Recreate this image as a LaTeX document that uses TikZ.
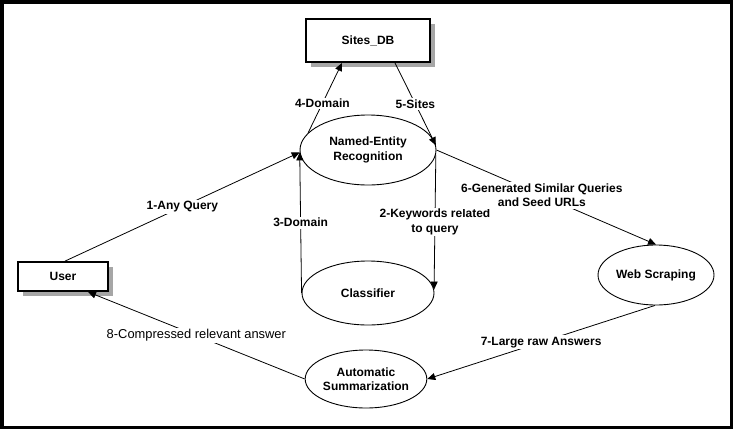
\documentclass[tikz,border=0pt]{standalone}
\usepackage{fontspec}
\setmainfont{Liberation Sans}
\usetikzlibrary{arrows.meta,shapes.geometric,shadows}
\begin{document}
\begin{tikzpicture}[x=1pt,y=-1pt,
  every node/.style={font=\fontsize{12}{14.5}\selectfont\bfseries},
  ell/.style={draw,ellipse,line width=0.9pt,inner sep=0pt,fill=white},
  box/.style={draw,rectangle,line width=1.8pt,inner sep=0pt,fill=white,
    drop shadow={shadow xshift=5pt,shadow yshift=-5pt,fill=black!35,opacity=1}},
  conn/.style={line width=0.8pt,-{Triangle[length=8pt,width=7pt]}},
  lbl/.style={fill=white,inner sep=1.5pt}
  ]
\useasboundingbox (0,0) rectangle (733,429);
\draw[line width=3.5pt] (1.75,1.75) rectangle (731.25,427.25);

\node[box,minimum width=124pt,minimum height=43pt] (sites) at (368,40.5) {Sites\_DB};
\node[box,minimum width=90pt,minimum height=29pt] (user) at (63,276.5) {User};
\node[ell,minimum width=136pt,minimum height=70pt,align=center] (ner) at (368,150) {Named-Entity\\Recognition};
\node[ell,minimum width=132pt,minimum height=64pt] (cls) at (368,293) {Classifier};
\node[ell,minimum width=116pt,minimum height=58pt,align=center] (auto) at (366,379) {Automatic\\Summarization};
\node[ell,minimum width=116pt,minimum height=60pt] (web) at (656,275) {Web Scraping};

\draw[conn] ([xshift=2pt]user.north) -- node[lbl,pos=0.5] (l1) {1-Any Query} (ner.182);
\draw[conn] (ner.164) -- node[lbl,pos=0.42] (l4) {4-Domain} ([xshift=-26pt]sites.south);
\draw[conn] ([xshift=27pt]sites.south) -- node[lbl,pos=0.5] (l5) {5-Sites} (ner.4);
\draw[conn] (cls.west) -- node[lbl,pos=0.5] (l3) {3-Domain} (ner.182);
\draw[conn] (ner.356) -- node[lbl,pos=0.5,align=center] (l2) {2-Keywords related\\to query} (cls.3);
\draw[conn] (ner.east) -- node[lbl,pos=0.48,align=center] (l6) {6-Generated Similar Queries\\and Seed URLs} (web.north);
\draw[conn] (web.268) -- node[lbl,pos=0.5] (l7) {7-Large raw Answers} (auto.east);
\draw[conn] (auto.west) -- node[lbl,pos=0.5,font=\fontsize{12.9}{15}\selectfont] (l8) {8-Compressed relevant answer} ([xshift=25pt]user.south);
\end{tikzpicture}
\end{document}
